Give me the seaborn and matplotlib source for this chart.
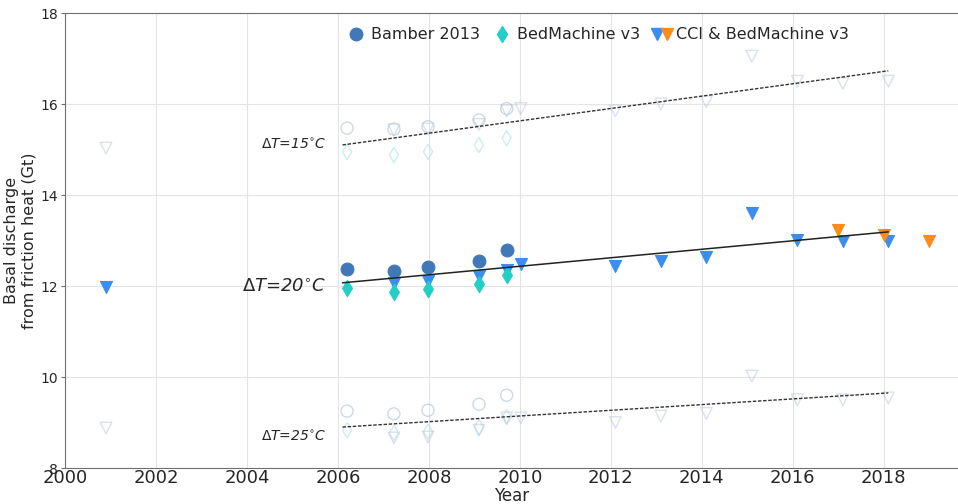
import matplotlib
matplotlib.use("Agg")
import matplotlib.pyplot as plt
import numpy as np
import pandas as pd
import seaborn as sns
from matplotlib.legend_handler import HandlerTuple
from matplotlib.lines import Line2D

# --- data ---------------------------------------------------------------
core_years = [2006.2, 2007.23, 2007.98, 2009.1, 2009.71]

bamber_20 = [12.37, 12.33, 12.42, 12.55, 12.79]
bamber_15 = [15.47, 15.45, 15.50, 15.65, 15.90]
bamber_25 = [9.25, 9.19, 9.27, 9.40, 9.60]

bedm_20 = [11.96, 11.87, 11.93, 12.04, 12.24]
bedm_15 = [14.95, 14.88, 14.95, 15.10, 15.25]
bedm_25 = [8.83, 8.77, 8.80, 8.90, 9.12]

cci_years = [2000.9, 2007.23, 2007.98, 2009.1, 2009.71, 2010.02,
             2012.1, 2013.1, 2014.1, 2015.1, 2016.1, 2017.1, 2018.1]
cci_20 = [11.98, 12.07, 12.10, 12.22, 12.35, 12.48,
          12.44, 12.55, 12.64, 13.60, 13.01, 12.99, 13.00]
cci_15 = [15.03, 15.43, 15.45, 15.55, 15.85, 15.90,
          15.85, 16.00, 16.05, 17.05, 16.50, 16.45, 16.50]
cci_25 = [8.88, 8.66, 8.68, 8.83, 9.10, 9.10,
          9.00, 9.14, 9.20, 10.02, 9.50, 9.50, 9.54]

cci_orange_years = [2017.0, 2018.0, 2019.0]
cci_orange_20 = [13.23, 13.12, 12.99]

trend_years = [2006.1, 2018.1]
trend_20 = [12.07, 13.19]
trend_15 = [15.10, 16.73]
trend_25 = [8.90, 9.65]

C_BAMBER = "#4179b8"
C_BEDM = "#22cfc6"
C_CCI = "#3a8ef0"
C_ORANGE = "#ff8c1a"

sns.set_style("whitegrid", {"grid.color": "#e4e4e4", "axes.edgecolor": "#707070"})
plt.rcParams["font.family"] = ["DejaVu Sans"]

fig = plt.figure(figsize=(9.58, 5.04), dpi=100)
ax = fig.add_axes([0.0679, 0.0714, 0.932, 0.9028])

df_b = pd.DataFrame({"year": core_years, "v20": bamber_20, "v15": bamber_15, "v25": bamber_25})
df_d = pd.DataFrame({"year": core_years, "v20": bedm_20, "v15": bedm_15, "v25": bedm_25})
df_c = pd.DataFrame({"year": cci_years, "v20": cci_20, "v15": cci_15, "v25": cci_25})
df_o = pd.DataFrame({"year": cci_orange_years, "v20": cci_orange_20})

# faint hollow markers for dT = 15 and 25
for col in ["v15", "v25"]:
    sns.scatterplot(data=df_b, x="year", y=col, ax=ax, marker="o", s=75,
                    fc="none", ec="#a7bacd", linewidth=1.0, alpha=0.55, zorder=2)
    sns.scatterplot(data=df_d, x="year", y=col, ax=ax, marker="d", s=60,
                    fc="none", ec="#a5dede", linewidth=1.0, alpha=0.55, zorder=2)
    sns.scatterplot(data=df_c, x="year", y=col, ax=ax, marker="v", s=70,
                    fc="none", ec="#b8c4d6", linewidth=1.0, alpha=0.5, zorder=2)

# filled markers for dT = 20
sns.scatterplot(data=df_b, x="year", y="v20", ax=ax, marker="o", s=85,
                color=C_BAMBER, edgecolor=C_BAMBER, linewidth=0.8, zorder=3)
sns.scatterplot(data=df_c, x="year", y="v20", ax=ax, marker="v", s=75,
                color=C_CCI, edgecolor=C_CCI, linewidth=0.8, zorder=3)
sns.scatterplot(data=df_o, x="year", y="v20", ax=ax, marker="v", s=75,
                color=C_ORANGE, edgecolor=C_ORANGE, linewidth=0.8, zorder=3)
sns.scatterplot(data=df_d, x="year", y="v20", ax=ax, marker="d", s=70,
                color=C_BEDM, edgecolor=C_BEDM, linewidth=0.8, zorder=4)

# trend lines
sns.lineplot(x=trend_years, y=trend_20, ax=ax, color="#222222", linewidth=1.1, zorder=5)
sns.lineplot(x=trend_years, y=trend_15, ax=ax, color="#333333", linewidth=1.0,
             linestyle=(0, (2.5, 1.2)), zorder=5)
sns.lineplot(x=trend_years, y=trend_25, ax=ax, color="#333333", linewidth=1.0,
             linestyle=(0, (2.5, 1.2)), zorder=5)

ax.text(2005.75, 11.98, r"$\Delta T$=20$^{\circ}$C", ha="right", va="center",
        fontsize=13, style="italic")
ax.text(2005.75, 15.1, r"$\Delta T$=15$^{\circ}$C", ha="right", va="center",
        fontsize=10, style="italic")
ax.text(2005.75, 8.68, r"$\Delta T$=25$^{\circ}$C", ha="right", va="center",
        fontsize=10, style="italic")

ax.set_xlim(2000, 2019.63)
ax.set_ylim(8, 18)
ax.set_xticks(np.arange(2000, 2019, 2))
ax.set_yticks(np.arange(8, 19, 2))
ax.tick_params(axis="x", labelsize=13, pad=1, length=0)
ax.tick_params(axis="y", labelsize=10, pad=2, length=3, left=True, color="#707070")
ax.set_xlabel("Year", fontsize=12, labelpad=0)
ax.set_ylabel("Basal discharge\nfrom friction heat (Gt)", fontsize=11.5, labelpad=3)
ax.spines["right"].set_visible(False)

h_b = Line2D([], [], marker="o", linestyle="none", color=C_BAMBER, markersize=9)
h_d = Line2D([], [], marker="d", linestyle="none", color=C_BEDM, markersize=8)
h_c1 = Line2D([], [], marker="v", linestyle="none", color=C_CCI, markersize=8)
h_c2 = Line2D([], [], marker="v", linestyle="none", color=C_ORANGE, markersize=8)
ax.legend([h_b, h_d, (h_c1, h_c2)], ["Bamber 2013", "BedMachine v3", "CCI & BedMachine v3"],
          handler_map={tuple: HandlerTuple(ndivide=None, pad=0.1)},
          loc="upper center", bbox_to_anchor=(0.597, 1.0), ncol=3, frameon=False,
          fontsize=11.5, handletextpad=0.3, columnspacing=0.8, handlelength=1.2)

fig.savefig("out.png", dpi=100)
